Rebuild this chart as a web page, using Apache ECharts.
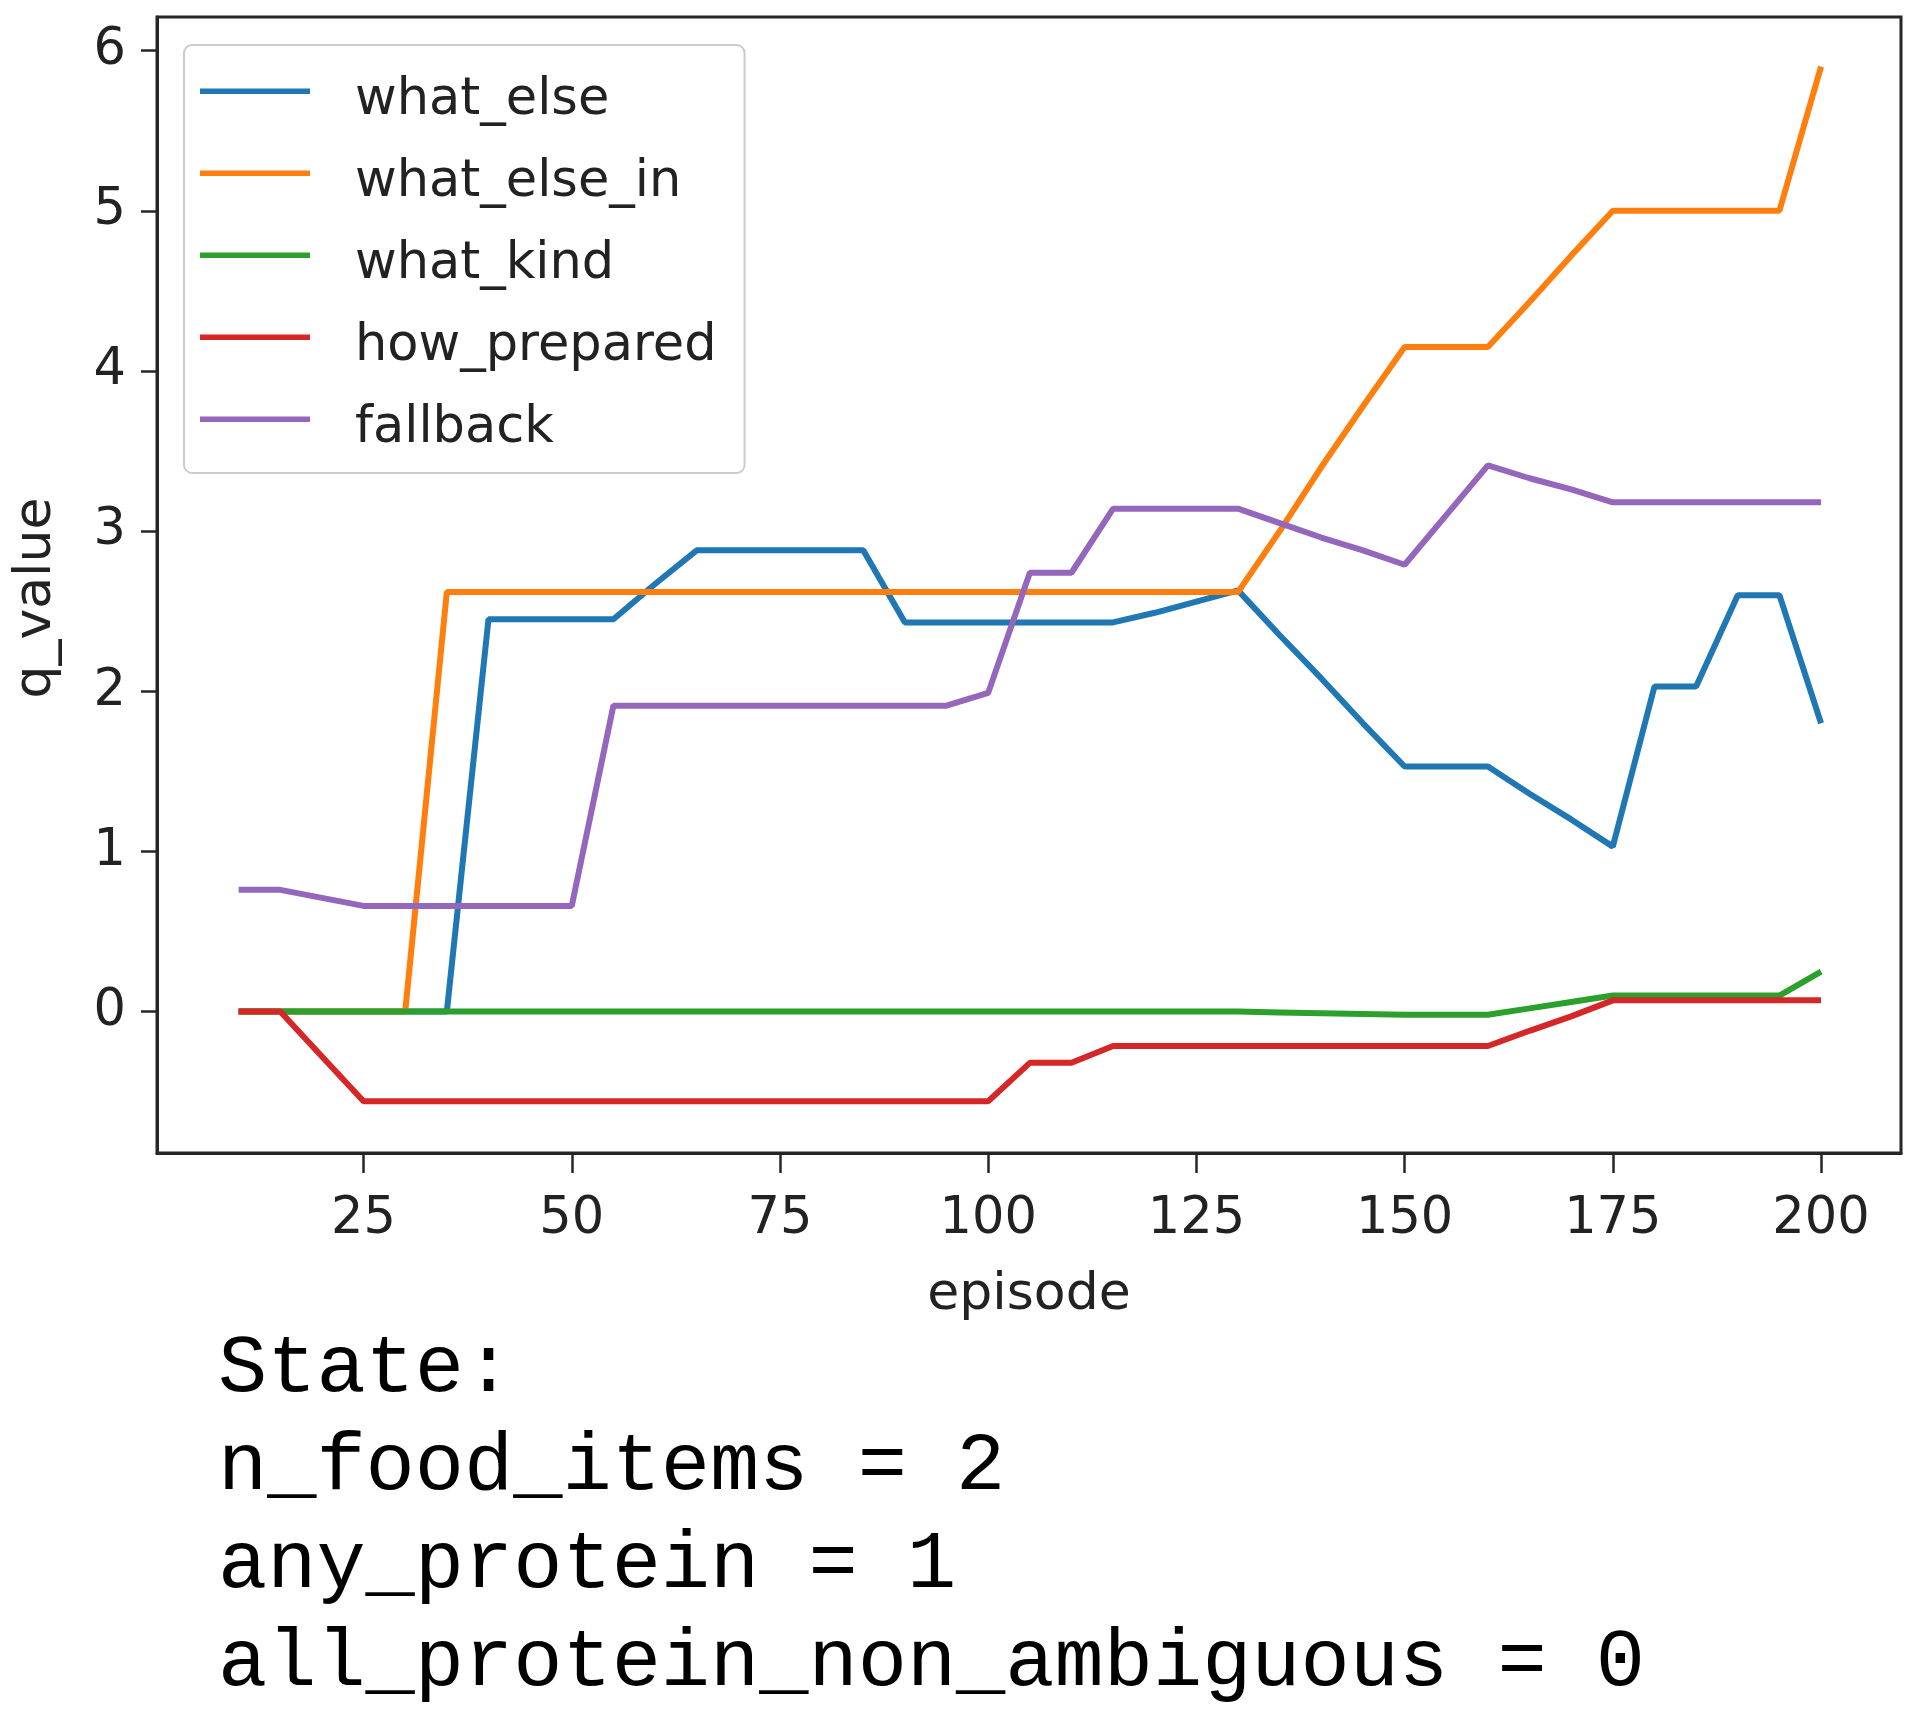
<!DOCTYPE html>
<html>
<head>
<meta charset="utf-8">
<script src="https://cdn.jsdelivr.net/npm/echarts@6/dist/echarts.min.js"></script>
<style>
html,body{margin:0;padding:0;background:#fff;}
#chart{width:1920px;height:1723px;}
</style>
</head>
<body>
<div id="chart"></div>
<script>
// ---- data ----
const episodes = [10,15,20,25,30,35,40,45,50,55,60,65,70,75,80,85,90,95,100,105,110,115,120,125,130,135,140,145,150,155,160,165,170,175,180,185,190,195,200];
const whatElse = [0,0,0,0,0,0,2.45,2.45,2.45,2.45,2.67,2.88,2.88,2.88,2.88,2.88,2.43,2.43,2.43,2.43,2.43,2.43,2.49,2.56,2.63,2.35,2.08,1.80,1.53,1.53,1.53,1.36,1.20,1.03,2.03,2.03,2.60,2.60,1.80];
const whatElseIn = [0,0,0,0,0,2.62,2.62,2.62,2.62,2.62,2.62,2.62,2.62,2.62,2.62,2.62,2.62,2.62,2.62,2.62,2.62,2.62,2.62,2.62,2.62,3.00,3.40,3.78,4.15,4.15,4.15,4.43,4.72,5.00,5.00,5.00,5.00,5.00,5.90];
const whatKind = [0,0,0,0,0,0,0,0,0,0,0,0,0,0,0,0,0,0,0,0,0,0,0,0,0,-0.005,-0.01,-0.015,-0.02,-0.02,-0.02,0.02,0.06,0.10,0.10,0.10,0.10,0.10,0.25];
const howPrepared = [0,0,-0.28,-0.56,-0.56,-0.56,-0.56,-0.56,-0.56,-0.56,-0.56,-0.56,-0.56,-0.56,-0.56,-0.56,-0.56,-0.56,-0.56,-0.32,-0.32,-0.215,-0.215,-0.215,-0.215,-0.215,-0.215,-0.215,-0.215,-0.215,-0.215,-0.12,-0.03,0.07,0.07,0.07,0.07,0.07,0.07];
const fallback = [0.76,0.76,0.71,0.66,0.66,0.66,0.66,0.66,0.66,1.91,1.91,1.91,1.91,1.91,1.91,1.91,1.91,1.91,1.99,2.74,2.74,3.14,3.14,3.14,3.14,3.05,2.96,2.88,2.79,3.10,3.41,3.33,3.26,3.18,3.18,3.18,3.18,3.18,3.18];

const seriesNames = ['what_else','what_else_in','what_kind','how_prepared','fallback'];
const seriesValues = [whatElse, whatElseIn, whatKind, howPrepared, fallback];
const colors = ['#1f77b4','#ff7f0e','#2ca02c','#d62728','#9467bd'];

const xTicks = [25,50,75,100,125,150,175,200];
const yTicks = [0,1,2,3,4,5,6];
const xLabel = 'episode';
const yLabel = 'q_value';
const stateLines = ['State:','n_food_items = 2','any_protein = 1','all_protein_non_ambiguous = 0'];

// ---- chart ----
const FONT = 'DejaVu Sans';
const AX = '#262626';
// legend line icon sitting in the upper part of its box (text centre falls slightly below the line, as in the reference)
const LEGEND_ICON = 'path://M0,0H100V5H0Z M0,22H0.001V22.001H0Z';
const chart = echarts.init(document.getElementById('chart'));
chart.setOption({
  animation: false,
  backgroundColor: '#ffffff',
  color: colors,
  grid: {
    left: 157, right: 19, top: 17, bottom: 570,
    show: true, borderColor: AX, borderWidth: 3, backgroundColor: 'transparent'
  },
  xAxis: {
    type: 'value', min: 0.2, max: 209.6,
    name: xLabel, nameLocation: 'middle', nameGap: 116,
    nameTextStyle: {fontFamily: FONT, fontSize: 52, color: '#222'},
    axisLine: {show: true, onZero: false, lineStyle: {color: AX, width: 3}},
    axisTick: {show: true, length: 20, lineStyle: {color: AX, width: 2.5}, customValues: xTicks},
    axisLabel: {show: true, margin: 41, fontFamily: FONT, fontSize: 51, color: '#222', customValues: xTicks},
    splitLine: {show: false}
  },
  yAxis: {
    type: 'value', min: -0.883, max: 6.21,
    name: yLabel, nameLocation: 'middle', nameGap: 95, nameRotate: 90,
    nameTextStyle: {fontFamily: FONT, fontSize: 52, color: '#222', padding: [0, 26, 0, 0]},
    axisLine: {show: true, onZero: false, lineStyle: {color: AX, width: 3}},
    axisTick: {show: true, length: 16, lineStyle: {color: AX, width: 2.5}, customValues: yTicks},
    axisLabel: {show: true, margin: 31, fontFamily: FONT, fontSize: 51, color: '#222', customValues: yTicks},
    splitLine: {show: false}
  },
  legend: {
    orient: 'vertical',
    left: 184, top: 45,
    padding: [30, 28, 19, 16],
    itemWidth: 110, itemHeight: 30, itemGap: 31,
    icon: LEGEND_ICON,
    backgroundColor: 'rgba(255,255,255,0.85)',
    borderColor: '#cccccc', borderWidth: 2, borderRadius: 8,
    textStyle: {fontFamily: FONT, fontSize: 51, lineHeight: 50, color: '#222', padding: [0, 0, 0, 40]},
    data: seriesNames
  },
  graphic: [{
    type: 'text', left: 218, top: 1320,
    style: {
      text: stateLines.join('\n'),
      fontFamily: '"Liberation Mono", "Courier New", monospace',
      fontSize: 82, lineHeight: 98, fill: '#000'
    }
  }],
  series: seriesNames.map((name, k) => ({
    name: name,
    type: 'line',
    symbol: 'none',
    lineStyle: {width: 6, color: colors[k]},
    itemStyle: {color: colors[k]},
    emphasis: {disabled: true},
    data: episodes.map((e, i) => [e, seriesValues[k][i]])
  }))
});
</script>
</body>
</html>
